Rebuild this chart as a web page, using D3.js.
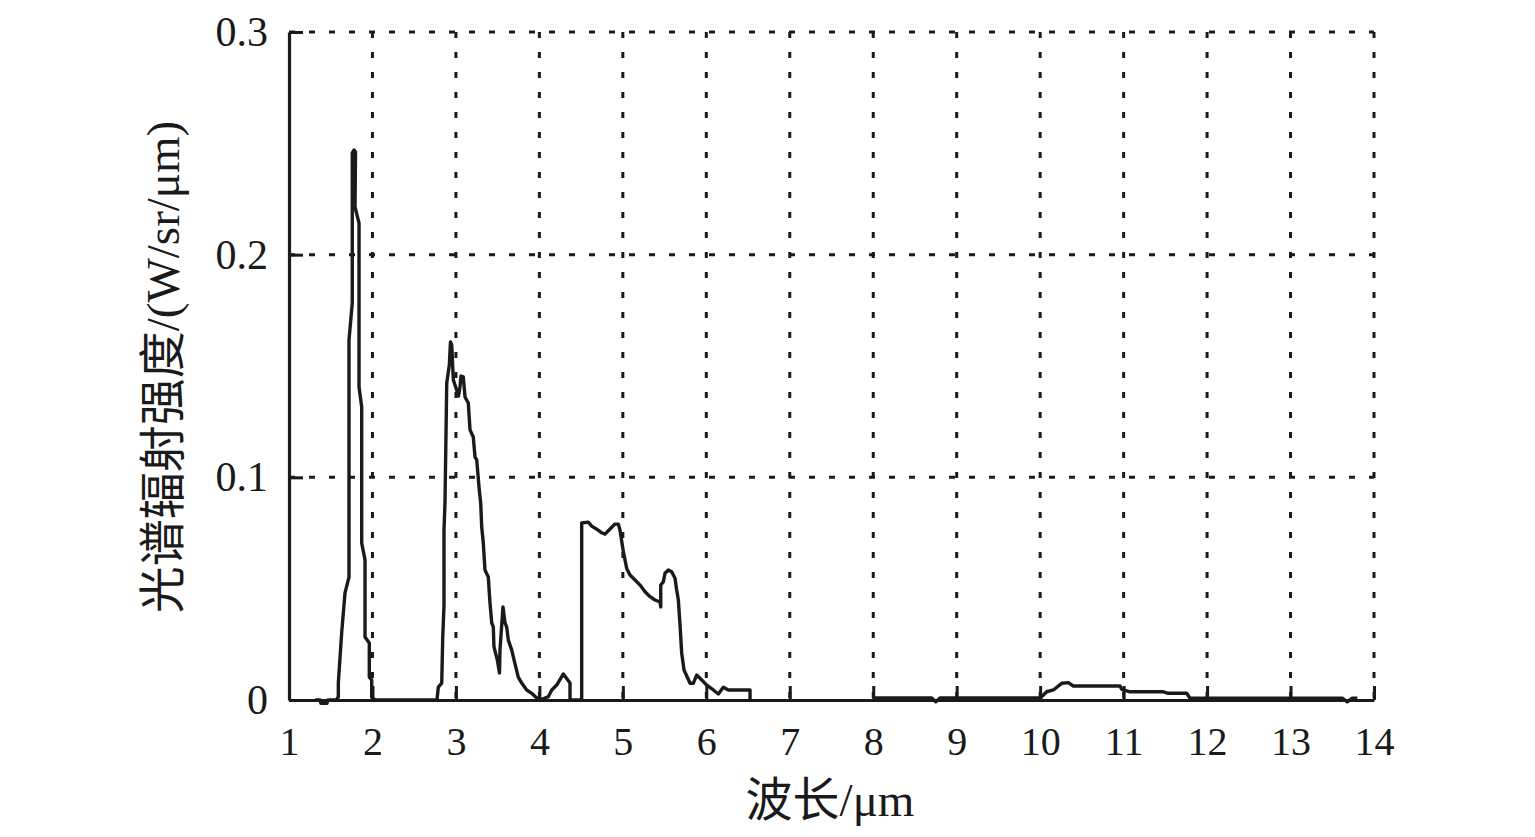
<!DOCTYPE html>
<html>
<head>
<meta charset="utf-8">
<script src="https://cdn.jsdelivr.net/npm/d3@7"></script>
<style>
  html, body { margin: 0; padding: 0; background: #fff; }
  svg { display: block; }
  text { font-family: "Liberation Serif", "Noto Sans CJK SC", serif; fill: #1a1a1a; }
</style>
</head>
<body>
<svg id="chart" width="1535" height="837"></svg>
<script>
// ---------- data ----------
const xTicks = [1,2,3,4,5,6,7,8,9,10,11,12,13,14];
const yTicks = [0, 0.1, 0.2, 0.3];
const yTickLabels = ["0", "0.1", "0.2", "0.3"];
const xTitle = "波长/μm";
const yTitle = "光谱辐射强度/(W/sr/μm)";

// short-wave band (1.3–6.5 μm)
const wavelengthA = [
  1.312,1.371,1.383,1.455,1.467,1.563,1.591,1.591,1.631,1.671,1.719,1.719,1.758,1.758,1.779,1.797,
  1.791,1.839,1.839,1.871,1.871,1.911,1.911,1.962,1.962,1.991,1.991,2.030,2.773,
  2.789,2.830,2.842,2.857,2.857,2.869,2.890,2.921,2.935,2.950,2.969,3.001,3.031,3.049,3.061,3.088,
  3.109,3.148,3.169,3.208,3.229,3.249,3.280,3.297,3.309,3.328,3.348,3.388,3.408,3.429,3.448,3.456,
  3.496,3.522,3.528,3.564,3.588,3.608,3.628,3.668,3.708,3.747,3.788,3.848,3.908,3.968,4.007,
  4.067,4.107,4.148,4.208,4.287,4.367,4.367,4.507,
  4.507,4.586,4.627,4.687,4.747,4.786,4.826,4.867,4.906,4.946,4.966,4.986,5.006,5.026,5.046,5.086,
  5.146,5.206,5.266,5.326,5.385,5.445,5.454,5.454,5.485,5.505,5.545,5.585,5.625,5.645,5.665,5.685,
  5.705,5.733,5.805,5.844,5.885,5.945,6.005,6.084,6.144,6.204,6.264,6.524,6.524
];
const radianceA = [
  0,0,-0.0015,-0.0015,0,0,0.0013,0.0076,0.0301,0.0481,0.0552,0.1617,0.1783,0.2457,0.2470,0.2461,
  0.2214,0.2142,0.1406,0.1316,0.0705,0.0629,0.0283,0.0256,0.0103,0.0090,0.0013,0,0,
  0.0058,0.0076,0.0283,0.0422,0.0763,0.0885,0.1424,0.1504,0.1608,0.1594,0.1437,0.1401,0.1365,0.1407,0.1455,0.1451,
  0.1361,0.1334,0.1213,0.1181,0.1091,0.1078,0.0943,0.0885,0.0777,0.0705,0.0584,0.0552,0.0436,0.0346,0.0328,0.0238,
  0.0180,0.0121,0.0225,0.0418,0.0346,0.0328,0.0269,0.0225,0.0162,0.0103,0.0076,0.0045,0.0030,0.0009,0,
  0.0009,0.0015,0.0045,0.0067,0.0117,0.0076,0,0,
  0.0795,0.0799,0.0781,0.0767,0.0751,0.0745,0.0760,0.0776,0.0790,0.0790,0.0763,0.0714,0.0666,0.0629,0.0591,0.0561,
  0.0539,0.0516,0.0486,0.0464,0.0449,0.0440,0.0418,0.0516,0.0531,0.0569,0.0584,0.0576,0.0547,0.0494,0.0449,0.0337,
  0.0211,0.0135,0.0075,0.0075,0.0112,0.0090,0.0067,0.0045,0.0027,0.0057,0.0045,0.0045,0
];

// long-wave band (8–13.8 μm)
const wavelengthB = [
  8.0,8.7,8.75,8.8,10.0,10.018,10.078,10.158,10.258,10.337,10.397,10.957,10.977,11.077,11.476,11.536,
  11.756,11.796,13.62,13.68,13.74,13.8
];
const radianceB = [
  0.0009,0.0009,-0.0008,0.0009,0.0009,0.0015,0.0037,0.0045,0.0075,0.0078,0.0063,0.0063,0.0048,0.0037,0.0037,0.0030,
  0.0030,0.0008,0.0008,-0.0008,0.0008,0.0008
];

// ---------- layout ----------
const L = 289, R = 1374, T = 32, B = 700;
const svg = d3.select("#chart");
const x = d3.scaleLinear().domain([1, 14]).range([L, R]);
const y = d3.scaleLinear().domain([0, 0.3]).range([B, T]);

// grid
const grid = svg.append("g").attr("stroke", "#1a1a1a").attr("stroke-width", 3).attr("stroke-dasharray", "6,14");
grid.selectAll("line.v").data(xTicks.slice(1)).enter().append("line")
  .attr("x1", d => x(d)).attr("x2", d => x(d)).attr("y1", T).attr("y2", B);
grid.selectAll("line.h").data(yTicks.slice(1)).enter().append("line")
  .attr("x1", L).attr("x2", R).attr("y1", d => y(d)).attr("y2", d => y(d));

// curves
const line = d3.line().x(d => x(d[0])).y(d => y(d[1]));
const segA = wavelengthA.map((w, i) => [w, radianceA[i]]);
const segB = wavelengthB.map((w, i) => [w, radianceB[i]]);
[segA, segB].forEach(seg => {
  svg.append("path").datum(seg).attr("d", line)
    .attr("fill", "none").attr("stroke", "#1a1a1a").attr("stroke-width", 3.4)
    .attr("stroke-linejoin", "round");
});

// axes
const xAxis = d3.axisBottom(x).tickValues(xTicks).tickSizeInner(-14).tickSizeOuter(0).tickPadding(27).tickFormat(d3.format("d"));
const yAxis = d3.axisLeft(y).tickValues(yTicks).tickSizeInner(-14).tickSizeOuter(0).tickPadding(21)
  .tickFormat((d, i) => yTickLabels[i]);
const gx = svg.append("g").attr("transform", `translate(0,${B})`).call(xAxis);
const gy = svg.append("g").attr("transform", `translate(${L},0)`).call(yAxis);
[gx, gy].forEach(g => {
  g.select(".domain").attr("stroke", "#1a1a1a").attr("stroke-width", 3.2);
  g.selectAll(".tick line").attr("stroke", "#1a1a1a").attr("stroke-width", 3);
  g.selectAll(".tick text").attr("fill", "#1a1a1a")
    .style("font-family", '"Liberation Serif", serif');
});
gx.selectAll(".tick text").attr("font-size", 40);
gy.selectAll(".tick text").attr("font-size", 42);

// titles
svg.append("text").attr("x", 830).attr("y", 800).attr("text-anchor", "middle")
  .attr("dominant-baseline", "central").attr("font-size", 47).text(xTitle);
svg.append("text").attr("transform", "translate(163,367) rotate(-90)").attr("text-anchor", "middle")
  .attr("dominant-baseline", "central").attr("font-size", 47).text(yTitle);
</script>
</body>
</html>
